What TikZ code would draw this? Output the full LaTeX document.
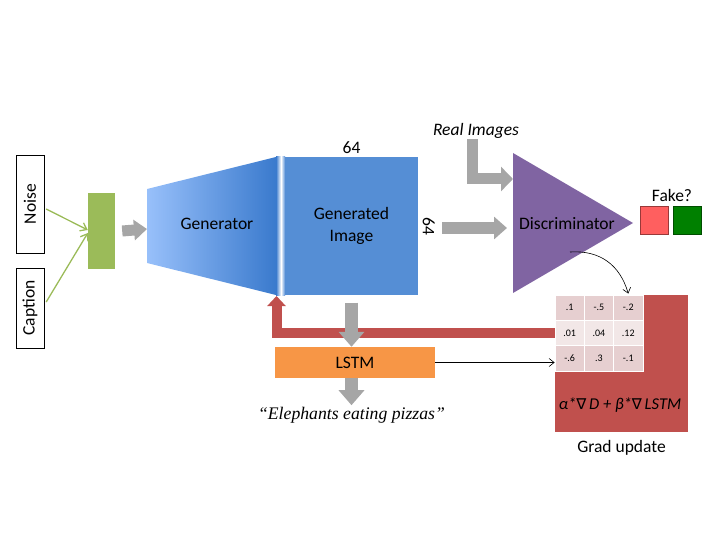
\documentclass[tikz,border=0pt]{standalone}
\usepackage{fontspec}
\setmainfont{Carlito}
\newfontfamily\quotefont{Liberation Serif}
\newfontfamily\symbfont{DejaVu Sans}
\usetikzlibrary{arrows.meta,positioning,calc}
\definecolor{mixgreen}{RGB}{155,187,89}
\definecolor{genlight}{RGB}{152,192,250}
\definecolor{gendark}{RGB}{58,122,205}
\definecolor{imgblue}{RGB}{85,142,213}
\definecolor{discpurple}{RGB}{128,100,162}
\definecolor{lstmorange}{RGB}{247,150,70}
\definecolor{gradred}{RGB}{192,80,77}
\definecolor{arrowgray}{RGB}{166,166,166}
\definecolor{fakered}{RGB}{255,95,95}
\definecolor{realgreen}{RGB}{0,128,0}
\definecolor{celldark}{RGB}{230,207,208}
\definecolor{celllight}{RGB}{242,231,231}

\tikzset{
  grayarrow/.style={arrowgray, line width=12pt, -{Triangle[width=22pt,length=13pt]}},
  inputbox/.style={draw, rotate=90, inner sep=0pt, minimum height=28pt},
  cell/.style={draw=white, line width=0.8pt, minimum width=29.3pt, minimum height=25.3pt, inner sep=0pt, font=\fontsize{10}{11}\selectfont}
}

\begin{document}
\begin{tikzpicture}[x=1pt, y=-1pt, every node/.style={font=\fontsize{17.5}{22}\selectfont}]
    \useasboundingbox (0,0) rectangle (720,540);

    % Inputs
    \node[inputbox, minimum width=98pt] (noise) at (30,204) {Noise};
    \node[inputbox, minimum width=80pt] (caption) at (30,308) {Caption};
    \node[fill=mixgreen, minimum width=27pt, minimum height=76pt, inner sep=0pt] (mix) at (101.5,231) {};
    \draw[-{Straight Barb[length=6pt,width=9pt]}, mixgreen, line width=1.3pt] ($(noise.south)+(2,5)$) -- ($(mix.west)+(0,-1)$);
    \draw[-{Straight Barb[length=6pt,width=9pt]}, mixgreen, line width=1.3pt] ($(caption.south)+(2,-6)$) -- ($(mix.west)+(0,2)$);

    % Generator
    \shade[left color=genlight, right color=gendark] (147,189) -- (276,157) -- (276,295) -- (147,263) -- cycle;
    \shade[left color=gendark, right color=white] (276,157) rectangle (281,295);
    \shade[left color=white, right color=imgblue] (281,157) rectangle (285,295);
    \node (gen) at (217,224) {Generator};
    \coordinate (genin) at (147,229);
    \coordinate (genout) at (276.5,296);
    \draw[grayarrow, line width=11pt, -{Triangle[width=20pt,length=13pt]}] ([xshift=7pt]mix.east) -- (genin);

    % Generated image
    \node[fill=imgblue, minimum width=133pt, minimum height=137pt, inner sep=0pt, align=center] (img) at (351.5,226) {Generated\\Image};
    \node[above=0pt of img] (top64) {64};
    \node[rotate=-90, right=1pt of img, anchor=south] (side64) {64};

    % Discriminator
    \fill[discpurple] (513,153) -- (633,223) -- (513,293) -- cycle;
    \node (disc) at (567,224) {Discriminator};
    \coordinate (discin) at (507,228);
    \coordinate (realin) at (513,179);
    \coordinate (dgrad) at (570,252);
    \draw[grayarrow] ([xshift=24pt]img.east |- discin) -- (discin);
    \node[font=\fontsize{17.5}{20}\selectfont\itshape] (real) at (476,131) {Real Images};
    \draw[grayarrow, line width=11pt, line join=miter, -{Triangle[width=24pt,length=12pt]}] (472.5,139) |- (realin);

    % Output
    \node (fakelbl) at (672,195) {Fake?};
    \node[fill=fakered, draw=fakered!60!black, minimum size=28pt, inner sep=0pt] (fake) at (654,220.5) {};
    \node[fill=realgreen, draw=realgreen!60!black, minimum size=28pt, inner sep=0pt] (realbox) at (687,220.5) {};

    % Gradient update
    \node[fill=gradred, minimum width=133pt, minimum height=137pt, inner sep=0pt] (grad) at (621.5,363.5) {};
    \foreach \row/\col/\val/\tone in {1/1/.1/celldark, 1/2/-.5/celldark, 1/3/-.2/celldark,
                                      2/1/.01/celllight, 2/2/.04/celllight, 2/3/.12/celllight,
                                      3/1/-.6/celldark, 3/2/.3/celldark, 3/3/-.1/celldark}
        \node[cell, fill=\tone] (m\row\col) at ({555+(\col-0.5)*29.3},{295+(\row-0.5)*25.3}) {\val};
    \node[font=\fontsize{16.5}{18}\selectfont\itshape] (formula) at (620,405) {α*{\symbfont\fontsize{15}{18}\selectfont∇}\,D + β*{\symbfont\fontsize{15}{18}\selectfont∇}\,LSTM};
    \node[below=5pt of grad] (gradlbl) {Grad update};
    \draw[-{Straight Barb[length=5pt,width=8pt]}, line width=0.6pt] (dgrad) .. controls (600,250) and (620,265) .. ([yshift=1pt]m13.north);

    % Feedback
    \draw[gradred, line width=10pt, line join=miter, -{Triangle[width=18pt,length=10pt]}] (m21.west) -| (genout);

    % LSTM
    \node[fill=lstmorange, minimum width=160pt, minimum height=31pt, inner sep=0pt] (lstm) at (355,362.5) {LSTM};
    \draw[grayarrow, line width=13pt, -{Triangle[width=25pt,length=15pt]}] ([yshift=-8pt]img.south) -- (img.south |- lstm.north);
    \draw[grayarrow, line width=13pt, -{Triangle[width=25pt,length=15pt]}] (img.south |- lstm.south) -- ++(0,27) coordinate (captip);
    \node[font=\fontsize{17.7}{20}\selectfont\quotefont\itshape, below=-2pt of captip] (sentence) {“Elephants eating pizzas”};
    \draw[-{Straight Barb[length=5pt,width=8pt]}, line width=0.6pt] (lstm.east) -- (lstm.east -| m31.west);
\end{tikzpicture}
\end{document}
